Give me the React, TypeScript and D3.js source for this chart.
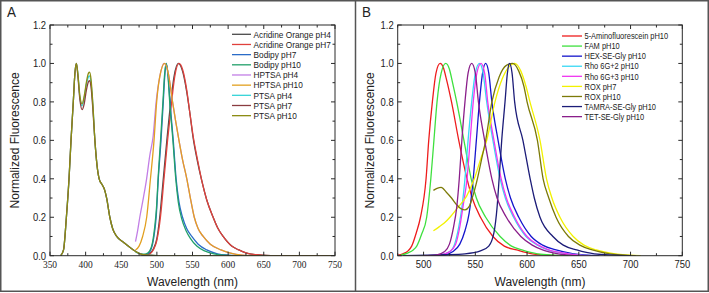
import React from "react";
import * as d3 from "d3";

type Pt = [number, number];

// ---- panel A data (wavelength nm, normalized fluorescence) ----
const acridinePh4: Pt[] = [[480, 0], [490, 0.012], [495, 0.035], [500, 0.09], [504, 0.2], [509, 0.4], [514, 0.6], [519.5, 0.8], [524, 0.93], [530, 1.0], [536, 0.96], [542, 0.85], [546, 0.75], [551, 0.61], [557, 0.49], [563, 0.39], [570, 0.29], [579, 0.2], [586, 0.14], [593, 0.1], [605, 0.05], [615, 0.03], [625, 0.015], [640, 0.005], [660, 0]];
const acridinePh7: Pt[] = [[480, 0], [490, 0.01], [495, 0.03], [500, 0.08], [505, 0.2], [510, 0.4], [515, 0.6], [520.7, 0.8], [525, 0.93], [531, 1.0], [536, 0.97], [542, 0.86], [546, 0.75], [551, 0.62], [557, 0.5], [563, 0.39], [570, 0.29], [579, 0.2], [586, 0.14], [593, 0.1], [605, 0.05], [615, 0.03], [625, 0.015], [640, 0.005], [660, 0], [750, 0]];
const bodipyPh7: Pt[] = [[478, 0], [485, 0.005], [490, 0.02], [494, 0.06], [497, 0.13], [499, 0.2], [502, 0.4], [505.8, 0.6], [509, 0.8], [511, 0.93], [513, 1.0], [515.5, 0.95], [518.4, 0.8], [523, 0.6], [527, 0.4], [531, 0.28], [536, 0.2], [542, 0.14], [549, 0.1], [558, 0.06], [570, 0.03], [585, 0.01], [600, 0.003], [620, 0]];
const bodipyPh10: Pt[] = [[470, 0.02], [475, 0.012], [480, 0.008], [485, 0.01], [490, 0.025], [494, 0.07], [497, 0.15], [499.5, 0.25], [502, 0.42], [505.5, 0.62], [508.5, 0.8], [511, 0.95], [513, 1.0], [515.5, 0.94], [518, 0.8], [522.5, 0.6], [526.5, 0.4], [530, 0.28], [535, 0.19], [541, 0.13], [547, 0.09], [556, 0.05], [567, 0.025], [580, 0.01], [595, 0.003], [615, 0]];
const hptsaPh4: Pt[] = [[470, 0.073], [473, 0.13], [476, 0.2], [481, 0.3], [485.6, 0.4], [490, 0.52], [494.7, 0.62], [499, 0.8], [504, 0.93], [510, 1.0], [516, 0.95], [522, 0.8], [531, 0.6], [536, 0.5], [542, 0.4], [547, 0.3], [552.5, 0.2], [558, 0.14], [565, 0.1], [575, 0.06], [590, 0.03], [602, 0.015], [620, 0.003], [640, 0]];
const hptsaPh10: Pt[] = [[470, 0.03], [475, 0.05], [480, 0.1], [485.7, 0.2], [491, 0.4], [496, 0.6], [499.7, 0.8], [504, 0.93], [511, 1.0], [516, 0.95], [522, 0.8], [531, 0.6], [536, 0.5], [542, 0.4], [547, 0.3], [552.5, 0.2], [558, 0.14], [565, 0.1], [575, 0.06], [590, 0.03], [602, 0.015], [620, 0.003], [640, 0]];
const ptsaPh4: Pt[] = [[365, 0], [369, 0.03], [373, 0.2], [376.7, 0.4], [379.5, 0.6], [382.7, 0.8], [385, 0.95], [387, 1.0], [389, 0.95], [392, 0.82], [395, 0.78], [398, 0.82], [401, 0.89], [404, 0.93], [405.5, 0.935], [407.5, 0.9], [410, 0.79], [413, 0.6], [416, 0.47], [419, 0.4], [423, 0.37], [426, 0.35], [429.5, 0.3], [434, 0.2], [438, 0.14], [443.6, 0.1], [453, 0.07], [467, 0.03], [481, 0.005], [500, 0]];
const ptsaPh7: Pt[] = [[365, 0], [369, 0.03], [373, 0.2], [376.7, 0.4], [379.5, 0.6], [382.7, 0.8], [385, 0.95], [387, 1.0], [389, 0.94], [392, 0.81], [395, 0.76], [398, 0.79], [401, 0.86], [404, 0.905], [405.5, 0.91], [407.5, 0.88], [410, 0.77], [413, 0.6], [416, 0.47], [419, 0.4], [423, 0.37], [426, 0.35], [429.5, 0.3], [434, 0.2], [438, 0.14], [443.6, 0.1], [453, 0.07], [467, 0.03], [481, 0.005], [500, 0]];
const ptsaPh10: Pt[] = [[365, 0], [369, 0.03], [373, 0.2], [376.7, 0.4], [379.5, 0.6], [382.7, 0.8], [385, 0.95], [387, 1.0], [389, 0.95], [392, 0.83], [395, 0.79], [398, 0.83], [401, 0.9], [404, 0.95], [405.5, 0.955], [407.5, 0.92], [410, 0.8], [413, 0.6], [416, 0.47], [419, 0.4], [423, 0.37], [426, 0.35], [429.5, 0.3], [434, 0.2], [438, 0.14], [443.6, 0.1], [453, 0.07], [467, 0.03], [481, 0.005], [500, 0], [750, 0]];

const namesA = ["Acridine Orange pH4", "Acridine Orange pH7", "Bodipy pH7", "Bodipy pH10", "HPTSA pH4", "HPTSA pH10", "PTSA pH4", "PTSA pH7", "PTSA pH10"];
const dataA = [acridinePh4, acridinePh7, bodipyPh7, bodipyPh10, hptsaPh4, hptsaPh10, ptsaPh4, ptsaPh7, ptsaPh10];
const colorsA = ["#4a4a4a", "#e0403c", "#2a6cc8", "#22a06a", "#c27ee6", "#e2a020", "#36d4d8", "#8a3c40", "#8c8c14"];

// ---- panel B data ----
const aminoFluoPh10: Pt[] = [[475, 0.003], [480, 0.01], [485, 0.025], [488.5, 0.05], [493, 0.12], [497, 0.2], [502.4, 0.4], [505, 0.6], [508.5, 0.8], [512, 0.95], [516, 1.0], [519, 0.98], [522, 0.92], [527, 0.8], [534, 0.6], [542, 0.4], [547, 0.3], [555, 0.2], [567, 0.1], [578, 0.05], [590, 0.03], [605, 0.01], [630, 0]];
const famPh10: Pt[] = [[478, 0.003], [485, 0.015], [490, 0.03], [493.4, 0.05], [498, 0.11], [503, 0.2], [507, 0.4], [510, 0.6], [513, 0.8], [517, 0.95], [521.4, 1.0], [525, 0.97], [528, 0.9], [532, 0.8], [539, 0.6], [546, 0.4], [551, 0.3], [560, 0.2], [574, 0.1], [585, 0.05], [595, 0.03], [610, 0.01], [640, 0]];
const hexPh10: Pt[] = [[500, 0], [520, 0.003], [528, 0.02], [535, 0.06], [540, 0.13], [544, 0.22], [548, 0.4], [551, 0.6], [554, 0.8], [557, 0.95], [560, 1.0], [563, 0.95], [566, 0.8], [572, 0.6], [579, 0.4], [584, 0.3], [592, 0.2], [604, 0.1], [615, 0.055], [628, 0.03], [645, 0.01], [670, 0]];
const rho2Ph10: Pt[] = [[500, 0], [515, 0.003], [525, 0.02], [530, 0.06], [534, 0.15], [537, 0.25], [540, 0.4], [543, 0.6], [546.5, 0.8], [550, 0.95], [554, 1.0], [557.5, 0.95], [561, 0.8], [567, 0.6], [574, 0.4], [579, 0.3], [587, 0.2], [599, 0.1], [610, 0.055], [620, 0.03], [640, 0.01], [660, 0]];
const rho3Ph10: Pt[] = [[500, 0], [515, 0.003], [525, 0.02], [531, 0.06], [535, 0.15], [538.5, 0.27], [542, 0.4], [545, 0.6], [548, 0.8], [551.5, 0.95], [555.5, 1.0], [559, 0.95], [562, 0.8], [568, 0.6], [575, 0.4], [580, 0.3], [588, 0.2], [600, 0.1], [611, 0.055], [621, 0.03], [640, 0.01], [660, 0]];
const roxPh7: Pt[] = [[509.5, 0.13], [515, 0.15], [520, 0.17], [525.5, 0.2], [533, 0.25], [541.6, 0.31], [549, 0.4], [555, 0.5], [561, 0.6], [569, 0.8], [576, 0.92], [582, 0.98], [588, 1.0], [594, 0.96], [599, 0.88], [602.8, 0.8], [612.5, 0.6], [618.8, 0.4], [624, 0.3], [631.8, 0.2], [644.6, 0.1], [655, 0.055], [667, 0.03], [685, 0.01], [710, 0]];
const roxPh10: Pt[] = [[509.5, 0.34], [513, 0.35], [517, 0.355], [522, 0.33], [527, 0.3], [532, 0.265], [536, 0.245], [540, 0.238], [544, 0.255], [547, 0.3], [552, 0.4], [556, 0.5], [560, 0.6], [566, 0.8], [573, 0.93], [580, 0.99], [586, 1.0], [592, 0.96], [597, 0.88], [600, 0.8], [610, 0.6], [615.5, 0.4], [621, 0.3], [628, 0.2], [640, 0.1], [651, 0.055], [663, 0.03], [680, 0.01], [705, 0]];
const tamraPh10: Pt[] = [[480, 0], [520, 0.005], [540, 0.01], [555, 0.025], [563, 0.05], [568, 0.12], [571, 0.25], [573, 0.4], [575.5, 0.6], [578.7, 0.8], [581, 0.95], [583, 1.0], [585.5, 0.95], [588, 0.8], [596, 0.6], [603, 0.4], [607, 0.3], [612.5, 0.2], [625, 0.1], [635, 0.055], [648, 0.03], [665, 0.01], [700, 0]];
const tetPh10: Pt[] = [[500, 0], [512, 0.003], [520, 0.02], [525, 0.06], [529, 0.15], [532, 0.25], [534.5, 0.4], [537, 0.6], [540, 0.8], [543, 0.95], [546.5, 1.0], [550, 0.95], [553, 0.8], [559, 0.6], [566, 0.4], [571, 0.3], [580, 0.2], [594, 0.1], [605, 0.055], [615, 0.03], [630, 0.01], [650, 0]];

const namesB = ["5-Aminofluorescein pH10", "FAM pH10", "HEX-SE-Gly pH10", "Rho 6G+2 pH10", "Rho 6G+3 pH10", "ROX pH7", "ROX pH10", "TAMRA-SE-Gly pH10", "TET-SE-Gly pH10"];
const dataB = [aminoFluoPh10, famPh10, hexPh10, rho2Ph10, rho3Ph10, roxPh7, roxPh10, tamraPh10, tetPh10];
const colorsB = ["#ee1c1c", "#3ee03e", "#1414cc", "#38d8f4", "#f036f0", "#f2f200", "#7c7a08", "#1c1c78", "#8a1e8a"];

const yTicks = [0, 0.2, 0.4, 0.6, 0.8, 1.0, 1.2];
const xTicksA = [350, 400, 450, 500, 550, 600, 650, 700, 750];
const xTicksB = [500, 550, 600, 650, 700, 750];

const W = 709;
const H = 293;
const SANS = "Arial, 'Liberation Sans', sans-serif";
const SERIF = "'Liberation Serif', 'Times New Roman', serif";

// text squeezed a little horizontally, like the source image
function T(props: { x: number; y: number; size: number; anchor?: string; font?: string; sx?: number; children: React.ReactNode }) {
  const sx = props.sx ?? 0.9;
  return (
    <text
      transform={`translate(${props.x},${props.y}) scale(${sx},1)`}
      textAnchor={props.anchor || "start"}
      fontFamily={props.font || SANS}
      fontSize={props.size}
      fill="#222"
    >
      {props.children}
    </text>
  );
}

type PanelProps = {
  letter: string;
  left: number;
  right: number;
  domain: [number, number];
  xTicks: number[];
  xFont: string;
  xFontSize: number;
  names: string[];
  data: Pt[][];
  colors: string[];
  legend: { x: number; y: number; len: number; step: number; size: number };
  letterX: number;
  titleX: number;
};

function Panel(p: PanelProps) {
  const top = 25;
  const bottom = 255.7;
  const x = d3.scaleLinear().domain(p.domain).range([p.left, p.right]);
  const y = d3.scaleLinear().domain([0, 1.2]).range([bottom, top]);
  const line = d3
    .line<Pt>()
    .x((d) => x(d[0]))
    .y((d) => y(d[1]))
    .curve(d3.curveMonotoneX);
  const fmt = d3.format(".1f");
  const minorX = d3.range(p.domain[0], p.domain[1] + 1, 25).filter((v) => !p.xTicks.includes(v));
  const minorY = d3.range(0.1, 1.2, 0.2);
  const ax = "#2a2a2a";

  return (
    <g>
      <T x={p.letterX} y={17} size={15}>
        {p.letter}
      </T>
      <defs>
        <clipPath id={`clip-${p.letter}`}>
          <rect x={p.left} y={top - 2} width={p.right - p.left} height={bottom - top + 2} />
        </clipPath>
      </defs>
      <g clipPath={`url(#clip-${p.letter})`}>
        {p.data.map((s, i) => (
          <path key={i} d={line(s) || undefined} fill="none" stroke={p.colors[i]} strokeWidth={1.3} />
        ))}
      </g>
      <rect x={p.left} y={top} width={p.right - p.left} height={bottom - top} fill="none" stroke={ax} strokeWidth={1} />
      {p.xTicks.map((t) => (
        <g key={`xt${t}`}>
          <line x1={x(t)} x2={x(t)} y1={bottom} y2={bottom - 4} stroke={ax} />
          <line x1={x(t)} x2={x(t)} y1={top} y2={top + 4} stroke={ax} />
          <T x={x(t)} y={268} anchor="middle" font={p.xFont} size={p.xFontSize}>
            {t}
          </T>
        </g>
      ))}
      {minorX.map((t) => (
        <g key={`xm${t}`}>
          <line x1={x(t)} x2={x(t)} y1={bottom} y2={bottom - 2.5} stroke={ax} />
          <line x1={x(t)} x2={x(t)} y1={top} y2={top + 2.5} stroke={ax} />
        </g>
      ))}
      {yTicks.map((t) => (
        <g key={`yt${t}`}>
          <line x1={p.left} x2={p.left + 4} y1={y(t)} y2={y(t)} stroke={ax} />
          <line x1={p.right} x2={p.right - 4} y1={y(t)} y2={y(t)} stroke={ax} />
          <T x={p.left - 4} y={y(t) + 3.8} anchor="end" size={10.5}>
            {fmt(t)}
          </T>
        </g>
      ))}
      {minorY.map((t) => (
        <g key={`ym${t}`}>
          <line x1={p.left} x2={p.left + 2.5} y1={y(t)} y2={y(t)} stroke={ax} />
          <line x1={p.right} x2={p.right - 2.5} y1={y(t)} y2={y(t)} stroke={ax} />
        </g>
      ))}
      <text x={(p.left + p.right) / 2} y={286} textAnchor="middle" fontFamily={SANS} fontSize={12} fill="#222">
        Wavelength (nm)
      </text>
      <text
        transform={`translate(${p.titleX},${(top + bottom) / 2}) rotate(-90)`}
        textAnchor="middle"
        fontFamily={SANS}
        fontSize={12}
        fill="#222"
      >
        Normalized Fluorescence
      </text>
      {p.names.map((n, i) => {
        const ly = p.legend.y + i * p.legend.step;
        return (
          <g key={n}>
            <line x1={p.legend.x} x2={p.legend.x + p.legend.len} y1={ly} y2={ly} stroke={p.colors[i]} strokeWidth={1.3} />
            <T x={p.legend.x + p.legend.len + 2.5} y={ly + 3.2} size={p.legend.size}>
              {n}
            </T>
          </g>
        );
      })}
    </g>
  );
}

export default function App() {
  return (
    <svg width={W} height={H} style={{ position: "absolute", left: 0, top: 0, background: "#fff" }}>
      <rect x={0.75} y={0.75} width={707.5} height={290.5} fill="none" stroke="#555" strokeWidth={1.5} />
      <line x1={355.5} x2={355.5} y1={0} y2={292} stroke="#555" strokeWidth={1.5} />
      <Panel
        letter="A"
        left={50}
        right={335}
        domain={[350, 750]}
        xTicks={xTicksA}
        xFont={SERIF}
        xFontSize={10.5}
        names={namesA}
        data={dataA}
        colors={colorsA}
        legend={{ x: 232, y: 34.3, len: 19, step: 10.17, size: 9.2 }}
        letterX={7}
        titleX={18.5}
      />
      <Panel
        letter="B"
        left={397.7}
        right={682.3}
        domain={[475, 750]}
        xTicks={xTicksB}
        xFont={SANS}
        xFontSize={10.5}
        names={namesB}
        data={dataB}
        colors={colorsB}
        legend={{ x: 562, y: 36, len: 20, step: 10.08, size: 8.3 }}
        letterX={362}
        titleX={373.5}
      />
    </svg>
  );
}
